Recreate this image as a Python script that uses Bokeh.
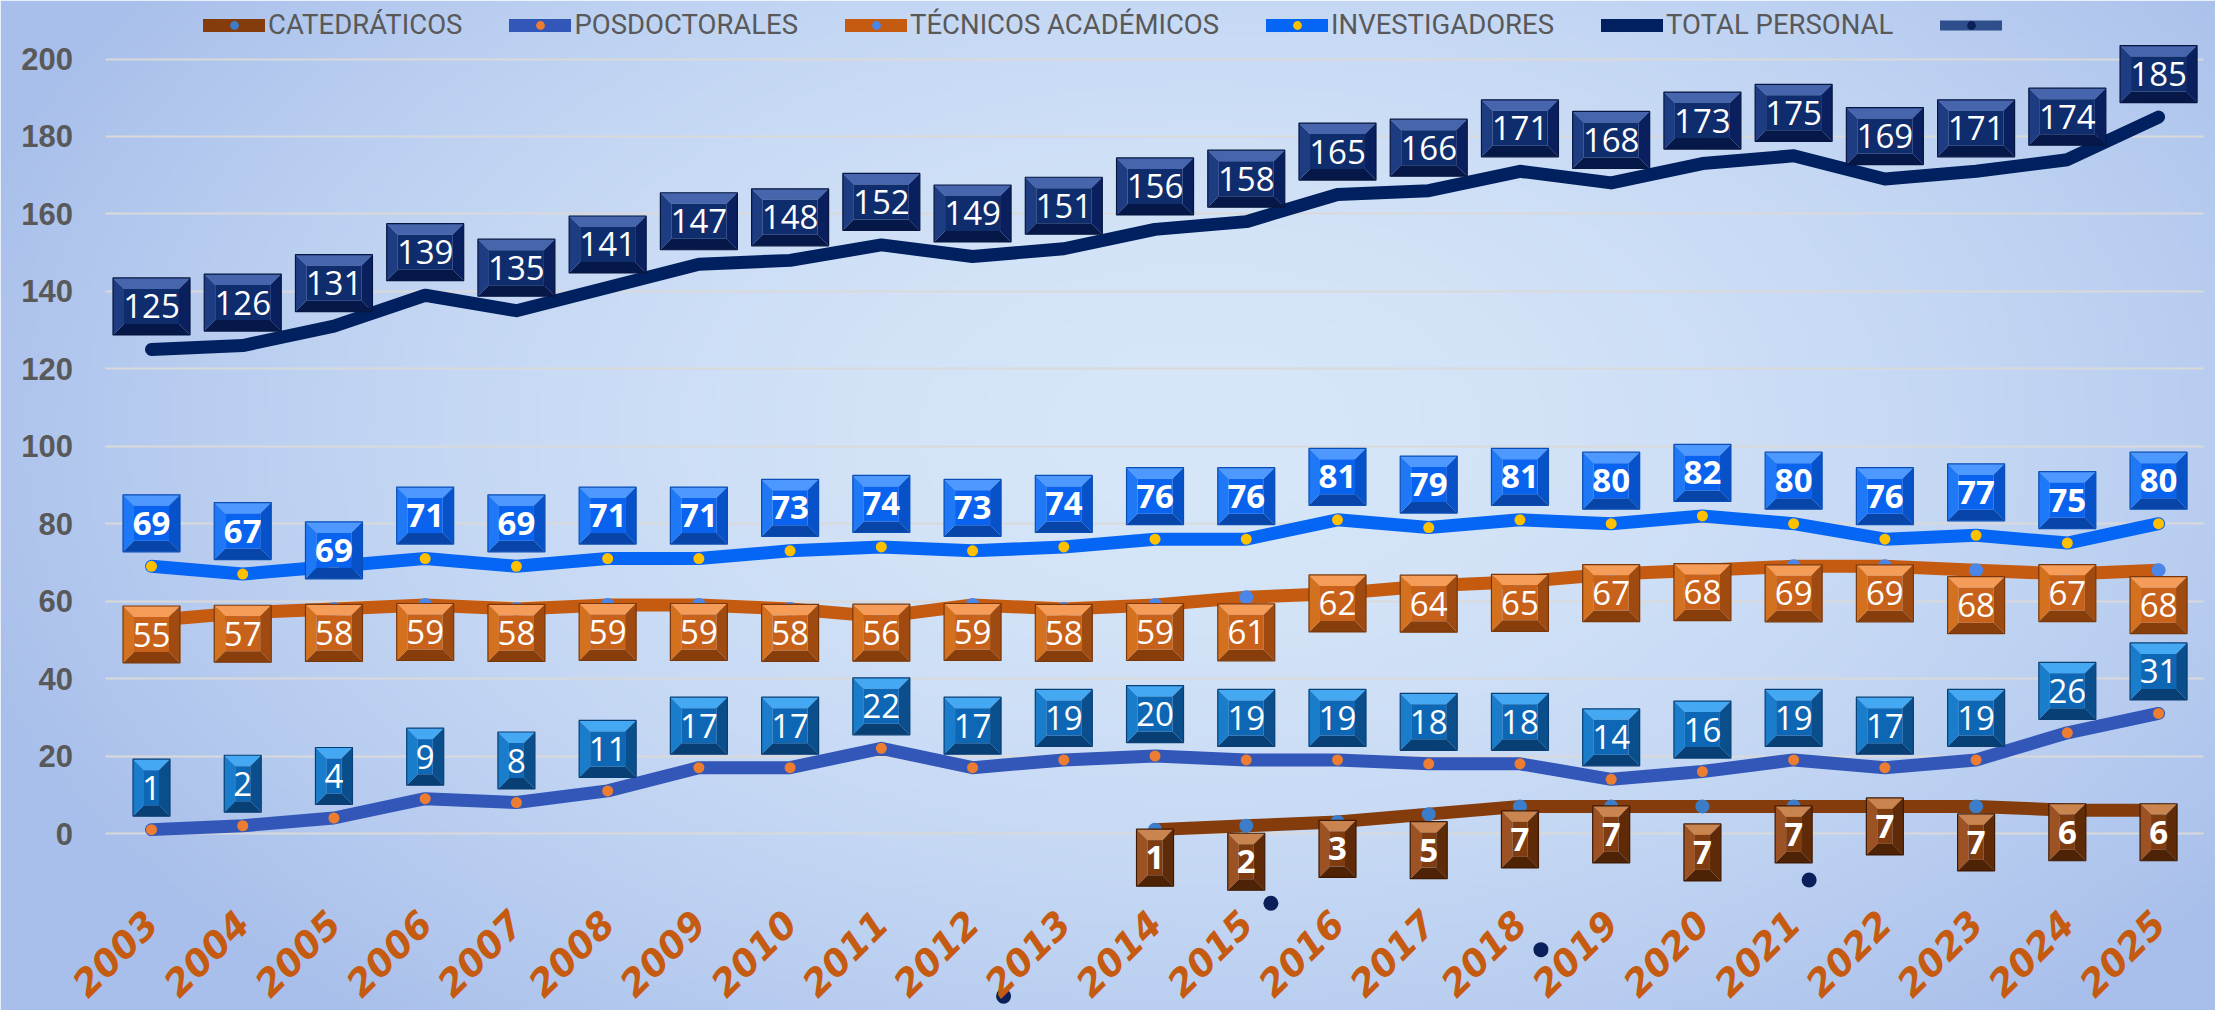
import numpy as np
from bokeh.plotting import figure
from bokeh.models import Range1d, LinearAxis, FixedTicker, Legend, LegendItem, ColumnDataSource
from bokeh.core.properties import value
from bokeh.embed import file_html
from bokeh.resources import INLINE

# ---------------- data ----------------
years = list(range(2003, 2026))
catedraticos = [None] * 11 + [1, 2, 3, 5, 7, 7, 7, 7, 7, 7, 6, 6]
posdoctorales = [1, 2, 4, 9, 8, 11, 17, 17, 22, 17, 19, 20, 19, 19, 18, 18, 14, 16, 19, 17, 19, 26, 31]
tecnicos = [55, 57, 58, 59, 58, 59, 59, 58, 56, 59, 58, 59, 61, 62, 64, 65, 67, 68, 69, 69, 68, 67, 68]
investigadores = [69, 67, 69, 71, 69, 71, 71, 73, 74, 73, 74, 76, 76, 81, 79, 81, 80, 82, 80, 76, 77, 75, 80]
total_personal = [125, 126, 131, 139, 135, 141, 147, 148, 152, 149, 151, 156, 158, 165, 166, 171, 168, 173,
                  175, 169, 171, 174, 185]
extra_x = [2012.34, 2015.27, 2018.23, 2021.17, 2024.12]
extra_y = [-42, -18, -30, -12, 5]
y_ticks = [0, 20, 40, 60, 80, 100, 120, 140, 160, 180, 200]
series_names = ["CATEDRÁTICOS", "POSDOCTORALES", "TÉCNICOS ACADÉMICOS", "INVESTIGADORES", "TOTAL PERSONAL", " "]

# label offsets in screen px (negative = above the point)
off_total = [-43] * 23
off_inv = [-43, -43, -16] + [-43] * 20
off_pos = [-42] * 23
off_tec = [14, 21, 24, 27, 24, 27, 27, 24, 16, 27, 24, 27, 35, 10, 18, 21, 19, 22, 27, 27, 35, 19, 35]
off_cat = [0] * 11 + [28, 36, 27, 36, 33, 28, 46, 28, 20, 36, 22, 22]

# ---------------- geometry ----------------
W, H = 2215, 1010
PXX = 91.23
PXY = 3.8725
X0 = 2003 - 151 / PXX
X1 = X0 + W / PXX
Y1 = 833 / PXY
Y0 = -(H - 833) / PXY
AXIS_X = 2002.5          # left edge of category band
AXIS_X_END = 2025.5      # right edge of category band

p = figure(width=W, height=H, x_range=Range1d(X0, X1), y_range=Range1d(Y0, Y1),
           output_backend="svg", toolbar_location=None,
           x_axis_location=None, y_axis_location=None,
           min_border_left=0, min_border_right=0, min_border_top=0, min_border_bottom=0,
           border_fill_color="#AEC4EE", outline_line_color=None)
for g in list(p.xgrid) + list(p.ygrid):
    g.visible = False

# background gradient
nx, ny = 440, 200
gx = np.linspace(0, 1, nx)
gy = np.linspace(0, 1, ny)
PXg, PYg = np.meshgrid(gx * W, H - gy * H)
t = np.sqrt(((PXg - 1200) / 1300) ** 2 + ((PYg - 430) / 780) ** 2)
t = np.clip(t, 0, 1) ** 1.7
c0 = np.array([215, 231, 249])
c1 = np.array([168, 191, 235])
img = np.empty((ny, nx), dtype=np.uint32)
view = img.view(dtype=np.uint8).reshape((ny, nx, 4))
for k in range(3):
    view[:, :, k] = (c0[k] + (c1[k] - c0[k]) * t).astype(np.uint8)
view[:, :, 3] = 255
p.image_rgba(image=[img], x=X0, y=Y0, dw=X1 - X0, dh=Y1 - Y0, level="image")

# y axis: ticks reaching across the band act as the grid lines
ya = LinearAxis(ticker=FixedTicker(ticks=y_ticks), fixed_location=AXIS_X, level="underlay",
                axis_line_color=None, minor_tick_line_color=None,
                major_tick_line_color="#D9D9D9", major_tick_line_width=2,
                major_tick_out=0, major_tick_in=int(round((AXIS_X_END - AXIS_X) * PXX)),
                major_label_standoff=33,
                major_label_text_font="Liberation Sans", major_label_text_font_size="31px",
                major_label_text_font_style="bold", major_label_text_color="#595959")
p.add_layout(ya, "left")

# x axis (year labels)
xa = LinearAxis(ticker=FixedTicker(ticks=years), fixed_location=-20,
                major_label_orientation=np.radians(45), major_label_standoff=6,
                axis_line_color=None, major_tick_line_color=None, minor_tick_line_color=None,
                major_tick_out=0, major_tick_in=0,
                major_label_text_font="DejaVu Sans", major_label_text_font_size="37px",
                major_label_text_font_style="bold italic", major_label_text_color="#C55A11")
p.add_layout(xa, "below")

def arr(v):
    return np.array([np.nan if a is None else a for a in v], dtype=float)

LW = 13
kw = dict(line_width=LW, line_cap="round", line_join="round")
r_cat = p.line(years, arr(catedraticos), line_color="#843C0C", **kw)
r_pos = p.line(years, posdoctorales, line_color="#3357B8", **kw)
r_tec = p.line(years, tecnicos, line_color="#C55A11", **kw)
r_inv = p.line(years, investigadores, line_color="#0565F5", **kw)
r_tot = p.line(years, total_personal, line_color="#002060", **kw)

m_cat = p.scatter(years, arr(catedraticos), size=14, fill_color="#3C7DCA", line_color=None)
m_pos = p.scatter(years, posdoctorales, size=11, fill_color="#ED7D31", line_color=None)
m_tec = p.scatter(years, tecnicos, size=14, fill_color="#4A86E8", line_color=None)
m_inv = p.scatter(years, investigadores, size=11, fill_color="#FFC000", line_color=None)
m_ex = p.scatter(extra_x, extra_y, size=15, fill_color="#0B1F5A", line_color=None)
r_ex = p.line(x=[np.nan, np.nan], y=[np.nan, np.nan], line_color="#2E4F8C", line_width=10, line_cap="round")

PAL = {
    "tot": ("#4665AD", "#1E3C82", "#0A1F5E", "#061848", "#0F2C6C", "#061640"),
    "inv": ("#4D99FF", "#1F78F5", "#0752C8", "#0745A8", "#0A63EE", "#0A4DB5"),
    "tec": ("#F59D58", "#D4711F", "#9E4A10", "#873E0B", "#C8621A", "#7A380A"),
    "pos": ("#44A8F2", "#1A7DCC", "#0A4F8C", "#083F75", "#0E67B5", "#083F75"),
    "cat": ("#C9844F", "#9C5222", "#5E2A08", "#4E2205", "#7E3C10", "#3E1A04"),
}

def add_labels(vals, offs, pal, bold):
    top, left, right, bottom, face, edge = PAL[pal]
    xs, ys, cols = [], [], []
    oxs, oys = [], []
    tx, ty, tt = [], [], []
    hh = 28.5
    bev = 11
    for x, v, o in zip(years, vals, offs):
        if v is None:
            continue
        txt = str(v)
        w = 17 + 20 * len(txt)
        cy = v - o / PXY
        dx, dy = (w / 2) / PXX, hh / PXY
        bx, by = bev / PXX, bev / PXY
        L, R, T, B = x - dx, x + dx, cy + dy, cy - dy
        iL, iR, iT, iB = L + bx, R - bx, T - by, B + by
        xs += [[L, R, iR, iL], [L, R, iR, iL], [L, iL, iL, L], [R, iR, iR, R], [iL, iR, iR, iL]]
        ys += [[T, T, iT, iT], [B, B, iB, iB], [T, iT, iB, B], [T, iT, iB, B], [iT, iT, iB, iB]]
        cols += [top, bottom, left, right, face]
        oxs.append([L, R, R, L])
        oys.append([T, T, B, B])
        tx.append(x)
        ty.append(cy)
        tt.append(txt)
    p.patches(xs="xs", ys="ys", fill_color="c", line_color=None,
              source=ColumnDataSource(dict(xs=xs, ys=ys, c=cols)))
    p.patches(xs="xs", ys="ys", fill_color=None, line_color=edge, line_width=1.2,
              source=ColumnDataSource(dict(xs=oxs, ys=oys)))
    p.text(x="x", y="y", text="t", source=ColumnDataSource(dict(x=tx, y=ty, t=tt)),
           text_align="center", text_baseline="middle", text_color="white",
           text_font=value("Open Sans"), text_font_size="33px",
           text_font_style="bold" if bold else "normal")

add_labels(catedraticos, off_cat, "cat", True)
add_labels(posdoctorales, off_pos, "pos", False)
add_labels(tecnicos, off_tec, "tec", False)
add_labels(investigadores, off_inv, "inv", True)
add_labels(total_personal, off_total, "tot", False)

legend = Legend(items=[
    LegendItem(label=series_names[0], renderers=[r_cat, m_cat]),
    LegendItem(label=series_names[1], renderers=[r_pos, m_pos]),
    LegendItem(label=series_names[2], renderers=[r_tec, m_tec]),
    LegendItem(label=series_names[3], renderers=[r_inv, m_inv]),
    LegendItem(label=series_names[4], renderers=[r_tot]),
    LegendItem(label=series_names[5], renderers=[r_ex, m_ex]),
], orientation="horizontal", location=(203, 969), glyph_width=62, glyph_height=22,
    label_standoff=3, spacing=47, padding=0, margin=0,
    background_fill_alpha=0, border_line_alpha=0,
    label_text_font="Roboto", label_text_font_size="27.5px",
    label_text_color="#595959", label_height=30)
p.add_layout(legend, "center")

open("out.html", "w").write(file_html(p, INLINE))
